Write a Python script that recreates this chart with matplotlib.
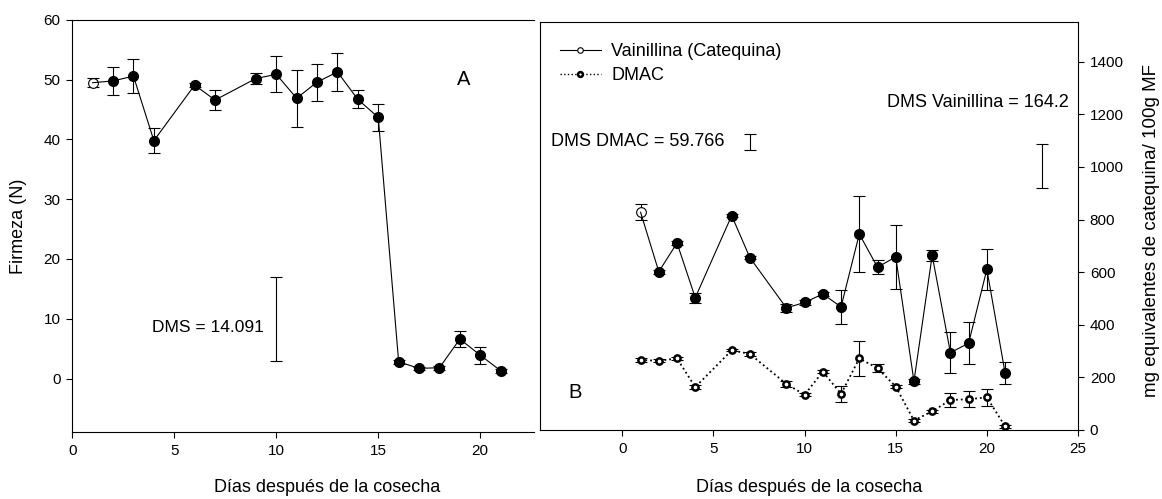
import matplotlib.pyplot as plt
from matplotlib.lines import Line2D

plt.rcParams['font.family'] = ['Liberation Sans', 'DejaVu Sans']
plt.rcParams['font.size'] = 11

# Data
dias = [1, 2, 3, 4, 6, 7, 9, 10, 11, 12, 13, 14, 15, 16, 17, 18, 19, 20, 21]
firmeza = [49.5, 49.8, 50.6, 39.8, 49.1, 46.6, 50.2, 50.9, 46.9, 49.6, 51.3, 46.7, 43.7, 2.8, 1.7, 1.8, 6.6, 3.9, 1.3]
firmeza_err = [0.8, 2.3, 2.8, 2.1, 0.3, 1.7, 1.0, 3.0, 4.8, 3.1, 3.2, 1.5, 2.3, 0.3, 0.3, 0.3, 1.3, 1.4, 0.3]
vainillina = [828, 602, 711, 503, 815, 655, 464, 485, 517, 468, 745, 619, 658, 185, 664, 294, 330, 611, 217]
vainillina_err = [30, 8, 8, 19, 5, 5, 14, 8, 8, 65, 145, 26, 122, 9, 22, 77, 80, 77, 42]
dmac = [266, 263, 272, 163, 303, 289, 175, 134, 222, 137, 272, 235, 165, 36, 71, 114, 117, 124, 14]
dmac_err = [7, 5, 7, 8, 4, 6, 12, 5, 5, 30, 67, 16, 5, 4, 5, 28, 30, 31, 5]

# DMS values (least significant difference)
dms_firmeza = 14.091
dms_dmac = 59.766
dms_vainillina = 164.2

fig = plt.figure(figsize=(11.62, 4.99), dpi=100)
ax1 = fig.add_axes([0.0622, 0.1337, 0.3976, 0.8263])
ax2 = fig.add_axes([0.465, 0.1383, 0.4627, 0.817])

cap = 4.5
lw = 0.8

# ---- Panel A: firmeza
ax1.errorbar(dias, firmeza, yerr=firmeza_err, color='black', lw=lw, elinewidth=lw,
             capsize=cap, capthick=lw, fmt='-')
ax1.plot(dias[1:], firmeza[1:], 'o', color='black', ms=7)
ax1.plot(dias[:1], firmeza[:1], 'o', mfc='white', mec='black', ms=7, mew=0.8)

ax1.errorbar([10], [9.95], yerr=[dms_firmeza / 2], color='black', lw=lw,
             capsize=cap, capthick=lw, fmt='none')
ax1.text(9.4, 8.6, 'DMS = 14.091', ha='right', va='center', fontsize=12.5)
ax1.text(19.2, 50, 'A', ha='center', va='center', fontsize=14.5)

ax1.set_xlim(0, 22.65)
ax1.set_ylim(-9, 60)
ax1.set_xticks([0, 5, 10, 15, 20])
ax1.set_yticks([0, 10, 20, 30, 40, 50, 60])
ax1.spines['right'].set_visible(False)
ax1.tick_params(direction='out', length=4, width=0.8, labelsize=11, pad=4.5)
ax1.set_ylabel('Firmeza (N)', fontsize=13)
ax1.yaxis.set_label_coords(-0.098, 0.5)
ax1.set_xlabel('Días después de la cosecha', fontsize=13)
ax1.xaxis.set_label_coords(0.551, -0.113)

# ---- Panel B: fenoles
ax2.errorbar(dias, vainillina, yerr=vainillina_err, color='black', lw=lw, elinewidth=lw,
             capsize=cap, capthick=lw, fmt='-')
ax2.plot(dias[1:], vainillina[1:], 'o', color='black', ms=7)
ax2.plot(dias[:1], vainillina[:1], 'o', mfc='white', mec='black', ms=7, mew=0.8)

ax2.errorbar(dias, dmac, yerr=dmac_err, color='black', elinewidth=lw,
             capsize=cap, capthick=lw, fmt='none')
ax2.plot(dias, dmac, ':', color='black', lw=1.3)
ax2.plot(dias, dmac, 'o', ms=4.5, mfc='white', mec='black', mew=1.8)

ax2.errorbar([7], [1094], yerr=[dms_dmac / 2], color='black', lw=lw,
             capsize=cap, capthick=lw, fmt='none')
ax2.errorbar([23], [1004], yerr=[dms_vainillina / 2], color='black', lw=lw,
             capsize=cap, capthick=lw, fmt='none')
ax2.text(-3.9, 1096, 'DMS DMAC = 59.766', ha='left', va='center', fontsize=13)
ax2.text(24.5, 1246, 'DMS Vainillina = 164.2', ha='right', va='center', fontsize=13)
ax2.text(-2.6, 141, 'B', ha='center', va='center', fontsize=14.5)

handles = [
    Line2D([], [], color='black', lw=lw, marker='o', ms=4, mfc='white', mec='black', mew=0.8),
    Line2D([], [], color='black', lw=1.0, ls=':', marker='o', ms=3.5, mfc='white', mec='black', mew=1.8),
]
ax2.legend(handles, ['Vainillina (Catequina)', 'DMAC'], loc='upper left',
           bbox_to_anchor=(0.036, 0.949), frameon=False, fontsize=13,
           borderpad=0, borderaxespad=0, handlelength=2.3, handletextpad=0.55,
           labelspacing=0.4)

ax2.set_xlim(-4.5, 25)
ax2.set_ylim(0, 1550)
ax2.set_xticks([0, 5, 10, 15, 20, 25])
ax2.set_yticks([0, 200, 400, 600, 800, 1000, 1200, 1400])
ax2.yaxis.tick_right()
ax2.yaxis.set_label_position('right')
ax2.tick_params(direction='out', length=4, width=0.8, labelsize=11, pad=4.5)
ax2.set_ylabel('mg equivalentes de catequina/ 100g MF', fontsize=13.5)
ax2.yaxis.set_label_coords(1.12, 0.49)
ax2.set_xlabel('Días después de la cosecha', fontsize=13)
ax2.xaxis.set_label_coords(0.5, -0.12)

for ax in (ax1, ax2):
    for s in ax.spines.values():
        s.set_linewidth(0.8)

fig.savefig('out.png', dpi=100)
